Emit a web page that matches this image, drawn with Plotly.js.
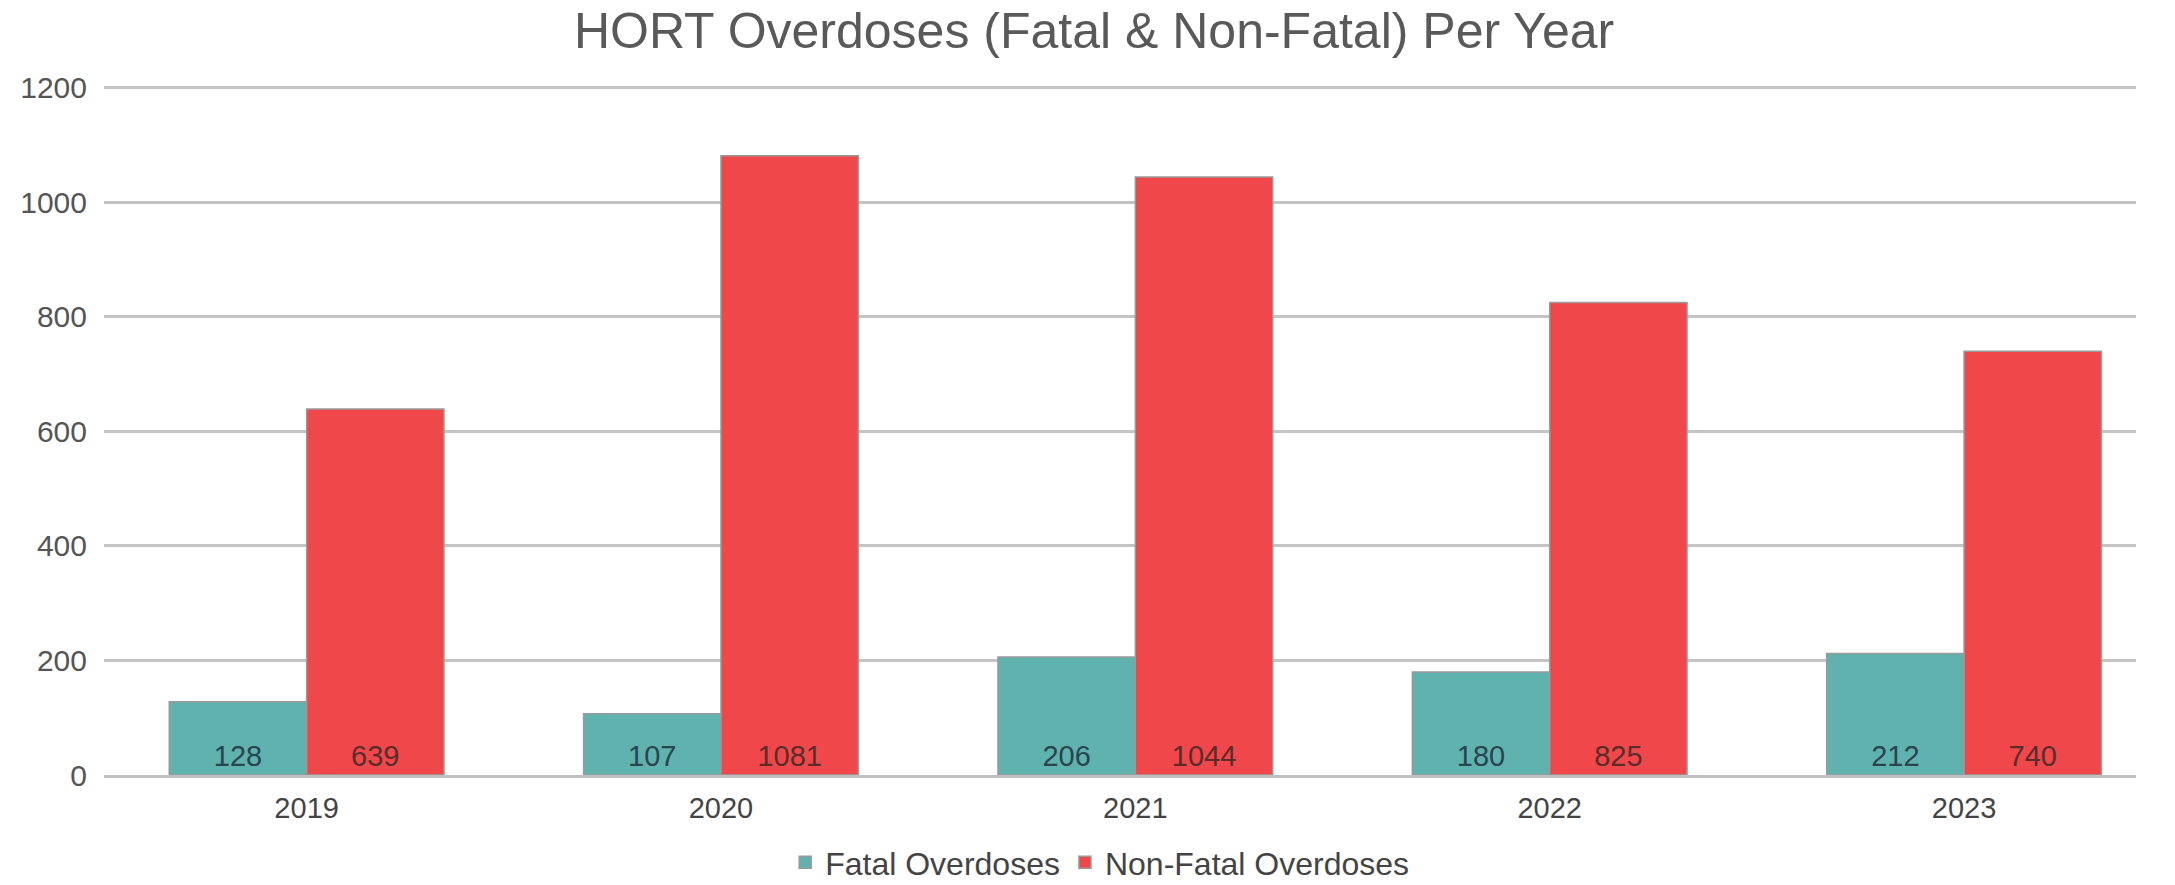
<!DOCTYPE html>
<html>
<head>
<meta charset="utf-8">
<script src="https://cdn.plot.ly/plotly-3.0.1.min.js"></script>
<style>html,body{margin:0;padding:0;background:#fff;}#chart{width:2175px;height:885px;}</style>
</head>
<body>
<div id="chart"></div>
<script>
const years = ["2019", "2020", "2021", "2022", "2023"];
const fatal = [128, 107, 206, 180, 212];
const nonFatal = [639, 1081, 1044, 825, 740];
const seriesNames = ["Fatal Overdoses", "Non-Fatal Overdoses"];
const yTicks = [0, 200, 400, 600, 800, 1000, 1200];

const font = "Liberation Sans, Arial, sans-serif";
const common = {
  type: "bar",
  x: years,
  textposition: "inside",
  insidetextanchor: "start",
  textangle: 0,
  constraintext: "none",
  hoverinfo: "skip"
};
const traces = [
  Object.assign({}, common, {
    name: seriesNames[0], y: fatal, text: fatal.map(String),
    marker: {color: "#5fb2ae", line: {color: "#9a9a9a", width: 1.5}},
    textfont: {family: font, size: 29, color: "#2a4450"}
  }),
  Object.assign({}, common, {
    name: seriesNames[1], y: nonFatal, text: nonFatal.map(String),
    marker: {color: "#f0474b", line: {color: "#9a9a9a", width: 1.5}},
    textfont: {family: font, size: 29, color: "#5a2c2c"}
  })
];
const layout = {
  width: 2175, height: 885,
  margin: {l: 104, r: 39, t: 86, b: 110, autoexpand: false},
  paper_bgcolor: "#fff", plot_bgcolor: "#fff",
  barmode: "group", bargap: 0.337, bargroupgap: 0,
  title: {text: "HORT Overdoses (Fatal &amp; Non-Fatal) Per Year", x: 0.503, xanchor: "center", y: 0.966, yanchor: "middle",
          font: {family: font, size: 50, color: "#595959"}},
  xaxis: {type: "category", range: [-0.489, 4.415], showgrid: false, ticks: "", showline: true, linecolor: "#c0c0c0", linewidth: 3,
          tickfont: {family: font, size: 29, color: "#444"}, ticklabelstandoff: 5},
  yaxis: {range: [0, 1203], tickvals: yTicks, ticktext: yTicks.map(String), showgrid: true, gridcolor: "#c4c4c4", gridwidth: 3,
          zeroline: false, ticks: "", tickfont: {family: font, size: 30, color: "#555"}, ticklabelstandoff: 16},
  showlegend: true,
  legend: {orientation: "h", x: 0.49, xanchor: "center", y: -0.127, yanchor: "middle",
           font: {family: font, size: 32, color: "#444"}, itemwidth: 30, tracegroupgap: 0}
};
Plotly.newPlot("chart", traces, layout, {staticPlot: true});
</script>
</body>
</html>
